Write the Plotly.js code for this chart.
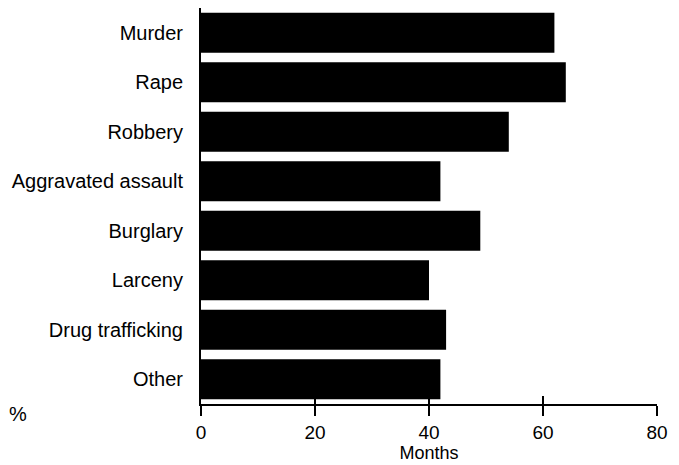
<!DOCTYPE html>
<html>
<head>
<meta charset="utf-8">
<script src="https://cdn.plot.ly/plotly-3.0.1.min.js"></script>
<style>html,body{margin:0;padding:0;background:#fff;}#chart{width:679px;height:465px;}</style>
</head>
<body>
<div id="chart"></div>
<script>
var categories = ["Murder", "Rape", "Robbery", "Aggravated assault", "Burglary", "Larceny", "Drug trafficking", "Other"];
var months = [62, 64, 54, 42, 49, 40, 43, 42];
var tickValues = [0, 20, 40, 60, 80];
var tickLabels = ["0", "20", "40", "60", "80"];

var font = {family: "Liberation Sans, Arial, sans-serif", size: 20, color: "#000"};

var data = [{
  type: "bar",
  orientation: "h",
  y: categories,
  x: months,
  marker: {color: "#000", line: {width: 0}},
  hoverinfo: "skip"
}, {
  type: "scatter", mode: "markers", x: [0], y: [categories[0]],
  xaxis: "x2", yaxis: "y", marker: {opacity: 0}, hoverinfo: "skip", showlegend: false
}];

var layout = {
  width: 679, height: 465,
  margin: {l: 201, r: 22, t: 8, b: 61},
  paper_bgcolor: "#fff", plot_bgcolor: "#fff",
  showlegend: false,
  bargap: 0.19,
  font: font,
  xaxis: {
    range: [0, 80], tickvals: tickValues, ticktext: tickLabels,
    showline: true, linecolor: "#000", linewidth: 2,
    ticks: "outside", ticklen: 10, tickwidth: 2, tickcolor: "#000",
    showgrid: false, zeroline: false, fixedrange: true,
    tickfont: {family: font.family, size: 19, color: "#000"},
    title: {text: "Months", font: {family: font.family, size: 18, color: "#000"}, standoff: 3}
  },
  xaxis2: {
    overlaying: "x", matches: "x", range: [0, 80], tickvals: tickValues, showticklabels: false,
    ticks: "inside", ticklen: 8, tickwidth: 2, tickcolor: "#000",
    showline: false, showgrid: false, zeroline: false, side: "bottom", anchor: "y"
  },
  yaxis: {
    type: "category", autorange: "reversed",
    showline: true, linecolor: "#000", linewidth: 2,
    ticks: "", showgrid: false, zeroline: false, fixedrange: true,
    ticklabelstandoff: 12, tickfont: font
  },
  annotations: [{
    xref: "paper", yref: "paper", x: -0.425, y: -0.025, xanchor: "left", yanchor: "middle",
    text: "%", showarrow: false, font: {family: font.family, size: 20, color: "#000"}
  }]
};

Plotly.newPlot("chart", data, layout, {displayModeBar: false, staticPlot: true});
</script>
</body>
</html>
